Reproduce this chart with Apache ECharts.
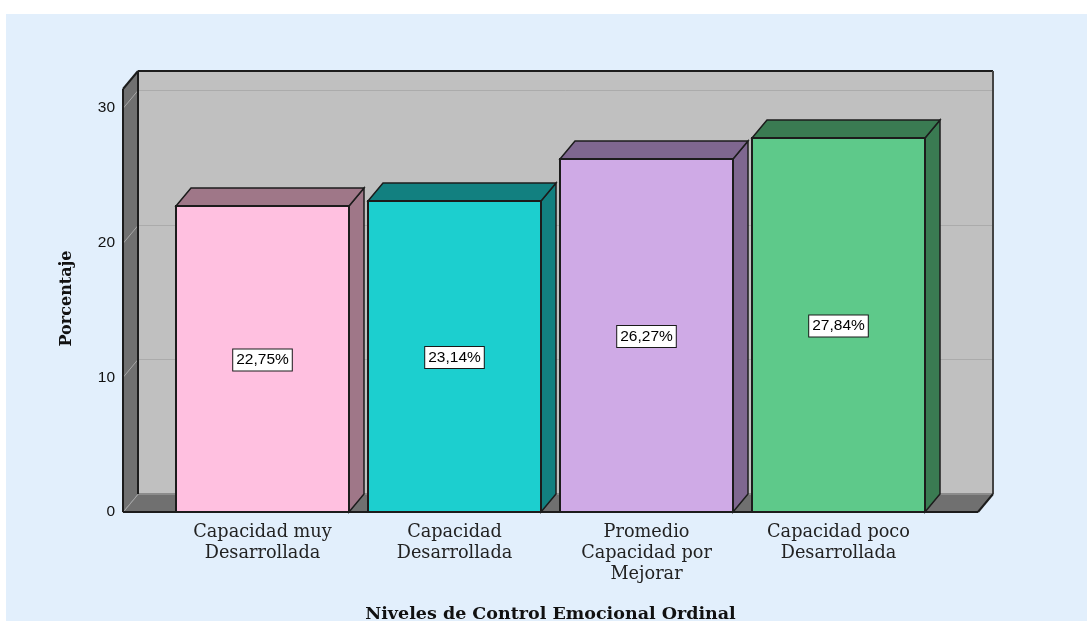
<!DOCTYPE html>
<html>
<head>
<meta charset="utf-8">
<style>html,body{margin:0;padding:0;background:#fff;overflow:hidden}#c{width:1087px;height:621px}</style>
<script src="https://cdn.jsdelivr.net/npm/echarts@6/dist/echarts.min.js"></script>
</head>
<body>
<div id="c"></div>
<script>
var categories = ['Capacidad muy\nDesarrollada', 'Capacidad\nDesarrollada', 'Promedio\nCapacidad por\nMejorar', 'Capacidad poco\nDesarrollada'];
var values = [22.75, 23.14, 26.27, 27.84];
var valueLabels = ['22,75%', '23,14%', '26,27%', '27,84%'];
var yTicks = [0, 10, 20, 30];
var frontColors = ['#ffc0e0', '#1ccfcf', '#cfaae6', '#5ec98a'];
var topColors = ['#9f7788', '#128080', '#7f6790', '#3a7b52'];
var DX = 15, DY = -18, EDGE = '#1c1c1c';

function poly(pts, fill, stroke, lw) {
  return {type: 'polygon', shape: {points: pts}, style: {fill: fill, stroke: stroke || null, lineWidth: lw || 0}};
}
function line(x1, y1, x2, y2, stroke, lw) {
  return {type: 'line', shape: {x1: x1, y1: y1, x2: x2, y2: y2}, style: {stroke: stroke, lineWidth: lw}};
}
function renderWalls(params, api) {
  var cs = params.coordSys;
  var L = cs.x - 43.5, R = cs.x + cs.width + 43.5, T = cs.y, B = cs.y + cs.height;
  var kids = [];
  kids.push(poly([[L + DX, T + DY], [R + DX, T + DY], [R + DX, B + DY], [L + DX, B + DY]], '#c0c0c0'));
  kids.push(poly([[L, T], [L + DX, T + DY], [L + DX, B + DY], [L, B]], '#707070'));
  kids.push(poly([[L, B], [L + DX, B + DY], [R + DX, B + DY], [R, B]], '#707070'));
  yTicks.forEach(function (t) {
    var y = Math.round(api.coord([0, t])[1]) + 0.5;
    if (t > 0) {
      kids.push(line(L + DX, y + DY, R + DX, y + DY, '#ababab', 1));
    }
    kids.push(line(L, y, L + DX, y + DY, '#a6a6a6', 1));
  });
  kids.push(line(L + DX, B + DY, R + DX, B + DY, '#8c8c8c', 2));
  kids.push(line(L + DX, T + DY, R + DX, T + DY, EDGE, 2));
  kids.push(line(L + DX, T + DY, L + DX, B + DY, EDGE, 2));
  kids.push(line(R + DX, T + DY, R + DX, B + DY, '#444', 2));
  kids.push(line(L, T, L, B, EDGE, 2));
  kids.push(line(L, T, L + DX, T + DY, EDGE, 2));
  kids.push(line(L, B, R, B, EDGE, 2));
  kids.push(line(R, B, R + DX, B + DY, EDGE, 2));
  return {type: 'group', children: kids};
}
function renderBar(params, api) {
  var i = api.value(0), v = api.value(1);
  var c = api.coord([i, v]), c0 = api.coord([i, 0]);
  var w = api.size([1, 0])[0] * 0.901;
  var x0 = Math.round(c[0] - w / 2), x1 = x0 + Math.round(w);
  var yt = Math.round(c[1] + 0.6), yb = Math.round(c0[1]);
  var kids = [
    poly([[x1, yb], [x1 + DX, yb + DY], [x1 + DX, yt + DY], [x1, yt]], topColors[i], EDGE, 1.5),
    poly([[x0, yt], [x0 + DX, yt + DY], [x1 + DX, yt + DY], [x1, yt]], topColors[i], EDGE, 1.5),
    poly([[x0, yt], [x1, yt], [x1, yb], [x0, yb]], frontColors[i], EDGE, 2),
    {type: 'text', style: {
      text: valueLabels[i], x: (x0 + x1) / 2, y: (yt + yb) / 2 + 1, align: 'center', verticalAlign: 'middle',
      font: '15.5px "Liberation Sans", Arial, sans-serif', fill: '#000',
      backgroundColor: '#fff', borderColor: '#1a1a1a', borderWidth: 1, padding: [3, 3, 2, 3]
    }}
  ];
  return {type: 'group', children: kids};
}
var serif = '"DejaVu Serif", serif';
var option = {
  animation: false,
  backgroundColor: '#ffffff',
  graphic: [{type: 'rect', z: -10, silent: true, shape: {x: 6, y: 14, width: 1081, height: 607}, style: {fill: '#e2effc'}}],
  grid: {left: 166.5, right: 152.5, top: 89, bottom: 109, outerBoundsMode: 'none'},
  xAxis: {
    type: 'category', data: categories,
    axisLine: {show: false}, axisTick: {show: false},
    axisLabel: {interval: 0, margin: 10, fontFamily: serif, fontSize: 17.7, lineHeight: 21, color: '#222', verticalAlign: 'top'},
    name: 'Niveles de Control Emocional Ordinal', nameLocation: 'middle', nameGap: 93,
    nameTextStyle: {fontFamily: serif, fontWeight: 'bold', fontSize: 17.5, color: '#111'}
  },
  yAxis: {
    type: 'value', min: 0, max: 31.4, interval: 10, offset: 43.5,
    splitLine: {show: false}, axisLine: {show: false}, axisTick: {show: false},
    axisLabel: {showMaxLabel: false, margin: 8, padding: [2, 0, 0, 0], fontFamily: '"Liberation Sans", Arial, sans-serif', fontSize: 15.5, color: '#111'},
    name: 'Porcentaje', nameLocation: 'middle', nameGap: 48,
    nameTextStyle: {fontFamily: serif, fontWeight: 'bold', fontSize: 16, color: '#111', padding: [0, 0, 0, 4]}
  },
  series: [
    {type: 'custom', renderItem: renderWalls, data: [[0, 0]], encode: {x: 0, y: 1}, z: 1, silent: true, clip: false},
    {type: 'custom', renderItem: renderBar, data: values.map(function (v, i) { return [i, v]; }), encode: {x: 0, y: 1}, z: 2, silent: true, clip: false}
  ]
};
echarts.init(document.getElementById('c')).setOption(option);
</script>
</body>
</html>
